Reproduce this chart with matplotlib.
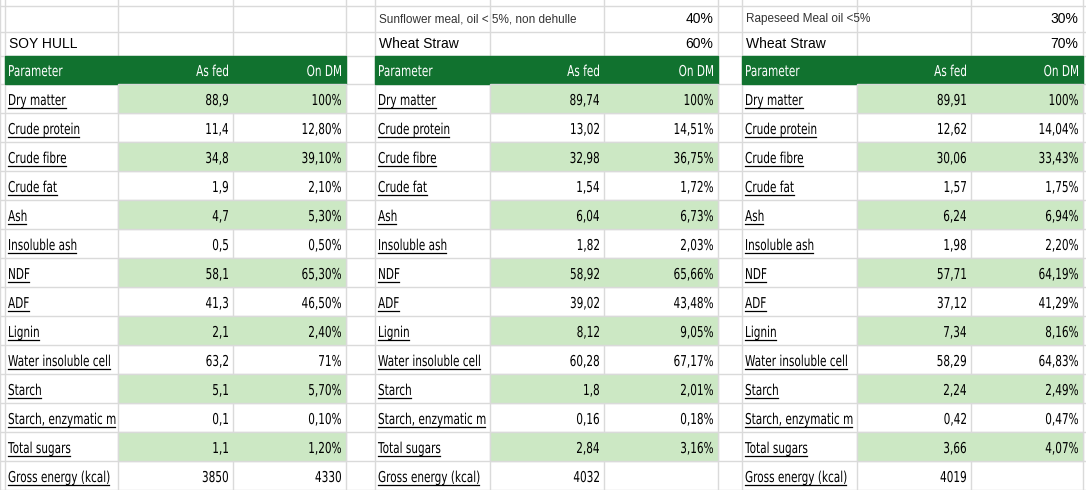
import matplotlib
matplotlib.use("Agg")
import matplotlib.pyplot as plt
from matplotlib.patches import Rectangle, PathPatch
from matplotlib.textpath import TextPath
from matplotlib.font_manager import FontProperties
from matplotlib.transforms import Affine2D

params = ["Dry matter", "Crude protein", "Crude fibre", "Crude fat", "Ash", "Insoluble ash",
          "NDF", "ADF", "Lignin", "Water insoluble cell", "Starch", "Starch, enzymatic m",
          "Total sugars", "Gross energy (kcal)"]
soy_fed = ["88,9", "11,4", "34,8", "1,9", "4,7", "0,5", "58,1", "41,3", "2,1", "63,2", "5,1", "0,1", "1,1", "3850"]
soy_dm = ["100%", "12,80%", "39,10%", "2,10%", "5,30%", "0,50%", "65,30%", "46,50%", "2,40%", "71%", "5,70%", "0,10%", "1,20%", "4330"]
sun_fed = ["89,74", "13,02", "32,98", "1,54", "6,04", "1,82", "58,92", "39,02", "8,12", "60,28", "1,8", "0,16", "2,84", "4032"]
sun_dm = ["100%", "14,51%", "36,75%", "1,72%", "6,73%", "2,03%", "65,66%", "43,48%", "9,05%", "67,17%", "2,01%", "0,18%", "3,16%", ""]
rap_fed = ["89,91", "12,62", "30,06", "1,57", "6,24", "1,98", "57,71", "37,12", "7,34", "58,29", "2,24", "0,42", "3,66", "4019"]
rap_dm = ["100%", "14,04%", "33,43%", "1,75%", "6,94%", "2,20%", "64,19%", "41,29%", "8,16%", "64,83%", "2,49%", "0,47%", "4,07%", ""]

tables = [
    ("", "", "SOY HULL", "", soy_fed, soy_dm),
    ("Sunflower meal, oil < 5%, non dehulle", "40%", "Wheat Straw", "60%", sun_fed, sun_dm),
    ("Rapeseed Meal oil <5%", "30%", "Wheat Straw", "70%", rap_fed, rap_dm),
]

plain = "Liberation Sans"
W, H = 1086, 490
fig = plt.figure(figsize=(W / 100, H / 100), dpi=100)
ax = fig.add_axes([0, 0, 1, 1])
ax.set_xlim(0, W)
ax.set_ylim(H, 0)
ax.axis("off")

green = "#11722f"
light = "#cce8c4"
grid = "#dadada"

col_x = [[5, 118, 233, 346], [375, 490, 604, 718], [742, 857, 971, 1083]]
row_y = [6, 32, 56, 84] + [84 + 29 * (k + 1) for k in range(14)]
all_x = [0, 5, 118, 233, 346, 375, 490, 604, 718, 742, 857, 971, 1083]

cond_fp = FontProperties(family="DejaVu Sans")


def cond_text(s, x, y, ha="left", color="black", size=15, sx=0.70, clip=None, underline=False):
    # condensed text: glyph path squeezed horizontally; y is baseline
    if not s:
        return
    tp = TextPath((0, 0), s, size=size, prop=cond_fp)
    width = tp.get_extents().x1 * sx
    x0 = x - width if ha == "right" else x
    tr = Affine2D().scale(sx, -1).translate(x0, y)
    patch = PathPatch(tr.transform_path(tp), facecolor=color, edgecolor="none", zorder=3)
    ax.add_patch(patch)
    if clip is not None:
        patch.set_clip_path(clip)
    if underline:
        xr = x0 + width
        if clip is not None:
            xr = min(xr, clip.get_x() + clip.get_width() - 1)
        ax.plot([x0, xr], [y + 3, y + 3], color=color, lw=0.9, zorder=3)


for x in all_x:
    ax.plot([x, x], [0, H], color=grid, lw=1, zorder=1)
for y in row_y:
    ax.plot([0, W], [y, y], color=grid, lw=1, zorder=1)

for (t1, p1, t2, p2, fed, dm), cx in zip(tables, col_x):
    x0, x1, x2, x3 = cx
    ax.text(x0 + 4, 19, t1, fontsize=8.5, family=plain, color="#333333", va="center")
    ax.text(x3 - 5, 19, p1, fontsize=10, family=plain, va="center", ha="right")
    ax.text(x0 + 4, 44, t2, fontsize=10, family=plain, va="center")
    ax.text(x3 - 5, 44, p2, fontsize=10, family=plain, va="center", ha="right")
    ax.add_patch(Rectangle((x0, 56), x3 - x0, 28, color=green, zorder=2))
    cond_text("Parameter", x0 + 3, 76, color="white")
    cond_text("As fed", x2 - 5, 76, ha="right", color="white")
    cond_text("On DM", x3 - 5, 76, ha="right", color="white")
    for i, name in enumerate(params):
        ytop = row_y[3 + i]
        base = ytop + 21
        if i % 2 == 0:
            ax.add_patch(Rectangle((x1, ytop), x3 - x1, 29, facecolor=light, edgecolor=grid, lw=1, zorder=2))
        clip = Rectangle((x0, ytop), x1 - x0, 29, transform=ax.transData)
        cond_text(name, x0 + 3, base, clip=clip, underline=True)
        cond_text(fed[i], x2 - 5, base, ha="right")
        cond_text(dm[i], x3 - 5, base, ha="right")

fig.savefig("out.png", dpi=100)
